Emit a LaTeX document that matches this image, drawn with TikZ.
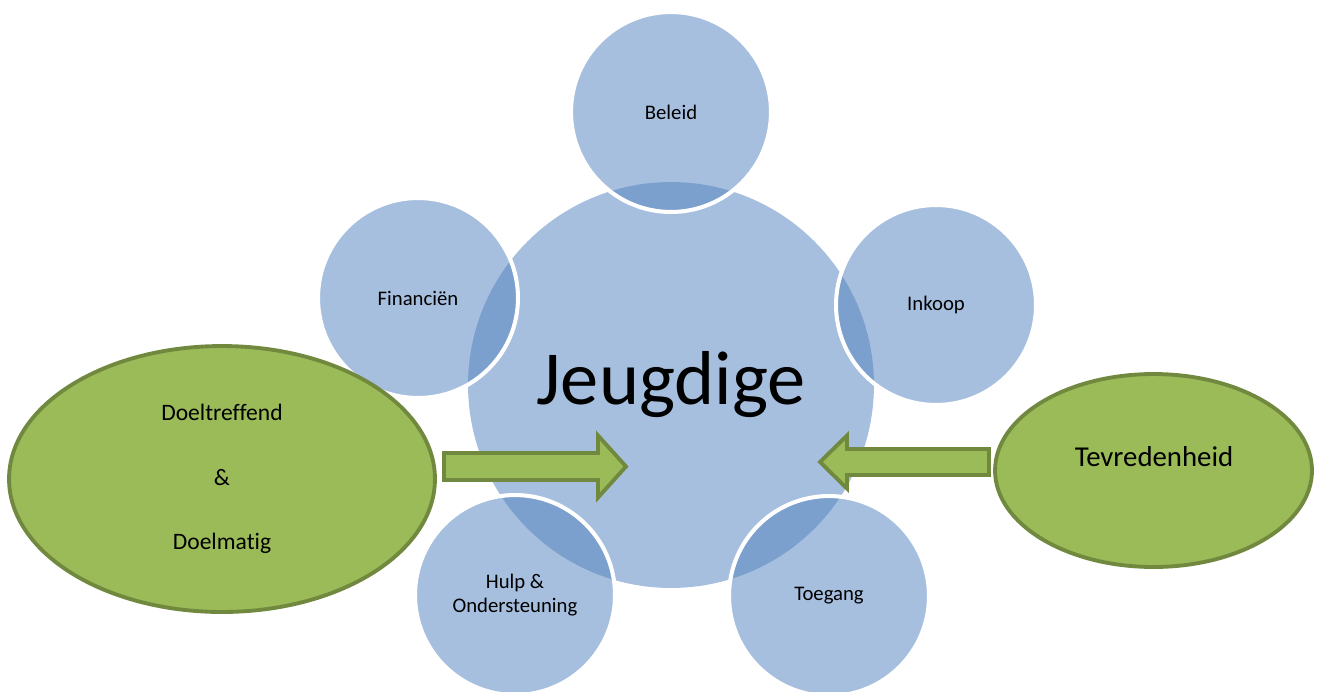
\documentclass[tikz,border=0pt]{standalone}
\usepackage{fontspec}
\setmainfont{Carlito}[Ligatures=NoCommon]
\usetikzlibrary{shapes.geometric}
\definecolor{circblue}{HTML}{A7BFDE}
\definecolor{overlapblue}{HTML}{7BA0CD}
\definecolor{leafgreen}{HTML}{9BBB59}
\definecolor{leafborder}{HTML}{71893F}

\begin{document}
\begin{tikzpicture}[x=0.02cm, y=-0.02cm]
                % Define styles
                \tikzstyle{hub} = [circle, fill=circblue, minimum size=8.12cm, inner sep=0pt, font=\fontsize{43.5}{50}\selectfont]
                \tikzstyle{sat} = [circle, fill=circblue, minimum size=4cm, inner sep=0pt, align=center, font=\fontsize{11.8}{14}\selectfont]
                \tikzstyle{overlap} = [fill=overlapblue]
                \tikzstyle{rim} = [draw=white, line width=2.3pt]
                \tikzstyle{goal} = [ellipse, fill=leafgreen, draw=leafborder, line width=2.2pt, inner sep=0pt, align=center]
                \tikzstyle{block} = [fill=leafgreen, draw=leafborder, line width=2.2pt, line join=miter]

                \useasboundingbox (0,0) rectangle (1317,691);

                % Nodes
                \node [hub] (jeugd) at (671,385) {\raisebox{3pt}{Jeugdige}};

                \node [sat] (beleid) at (671,112) {Beleid};
                \node [sat] (financien) at (418,298) {Financiën};
                \node [sat] (inkoop) at (936,305) {Inkoop};
                \node [sat] (hulp) at (515,595) {Hulp \&\\Ondersteuning};
                \node [sat] (toegang) at (829,596) {Toegang};

                % Overlaps with the hub
                \begin{scope}
                \clip (jeugd.center) circle [radius=4.06cm];
                \fill [overlap] (beleid.center) circle [radius=2cm];
                \fill [overlap] (financien.center) circle [radius=2cm];
                \fill [overlap] (inkoop.center) circle [radius=2cm];
                \fill [overlap] (hulp.center) circle [radius=2cm];
                \fill [overlap] (toegang.center) circle [radius=2cm];
                \end{scope}
                \draw [rim] (beleid.center) circle [radius=2cm];
                \draw [rim] (financien.center) circle [radius=2cm];
                \draw [rim] (inkoop.center) circle [radius=2cm];
                \draw [rim] (hulp.center) circle [radius=2cm];
                \draw [rim] (toegang.center) circle [radius=2cm];

                \node [goal, minimum width=8.52cm, minimum height=5.32cm, font=\fontsize{13.4}{36.6}\selectfont] (doel) at (222,479) {Doeltreffend\\\&\\Doelmatig};
                \node [goal, minimum width=6.34cm, minimum height=3.86cm] (tevred) at (1153.5,470.5) {};
                \node [font=\fontsize{16.4}{20}\selectfont] (tevred_text) at (1154,457) {Tevredenheid};

                % Lines
                \coordinate (doel_arrow) at (444,466.5);
                \coordinate (tevred_arrow) at (989,462);
                \draw [block] (doel_arrow) ++(0,-13.5) -- ++(154,0) -- ++(0,-17.5) -- ++(28,31) -- ++(-28,31) -- ++(0,-17.5) -- ++(-154,0) -- cycle;
                \draw [block] (tevred_arrow) ++(0,-13) -- ++(-142,0) -- ++(0,-13.5) -- ++(-27,26.5) -- ++(27,26.5) -- ++(0,-13.5) -- ++(142,0) -- cycle;
            \end{tikzpicture}
\end{document}
